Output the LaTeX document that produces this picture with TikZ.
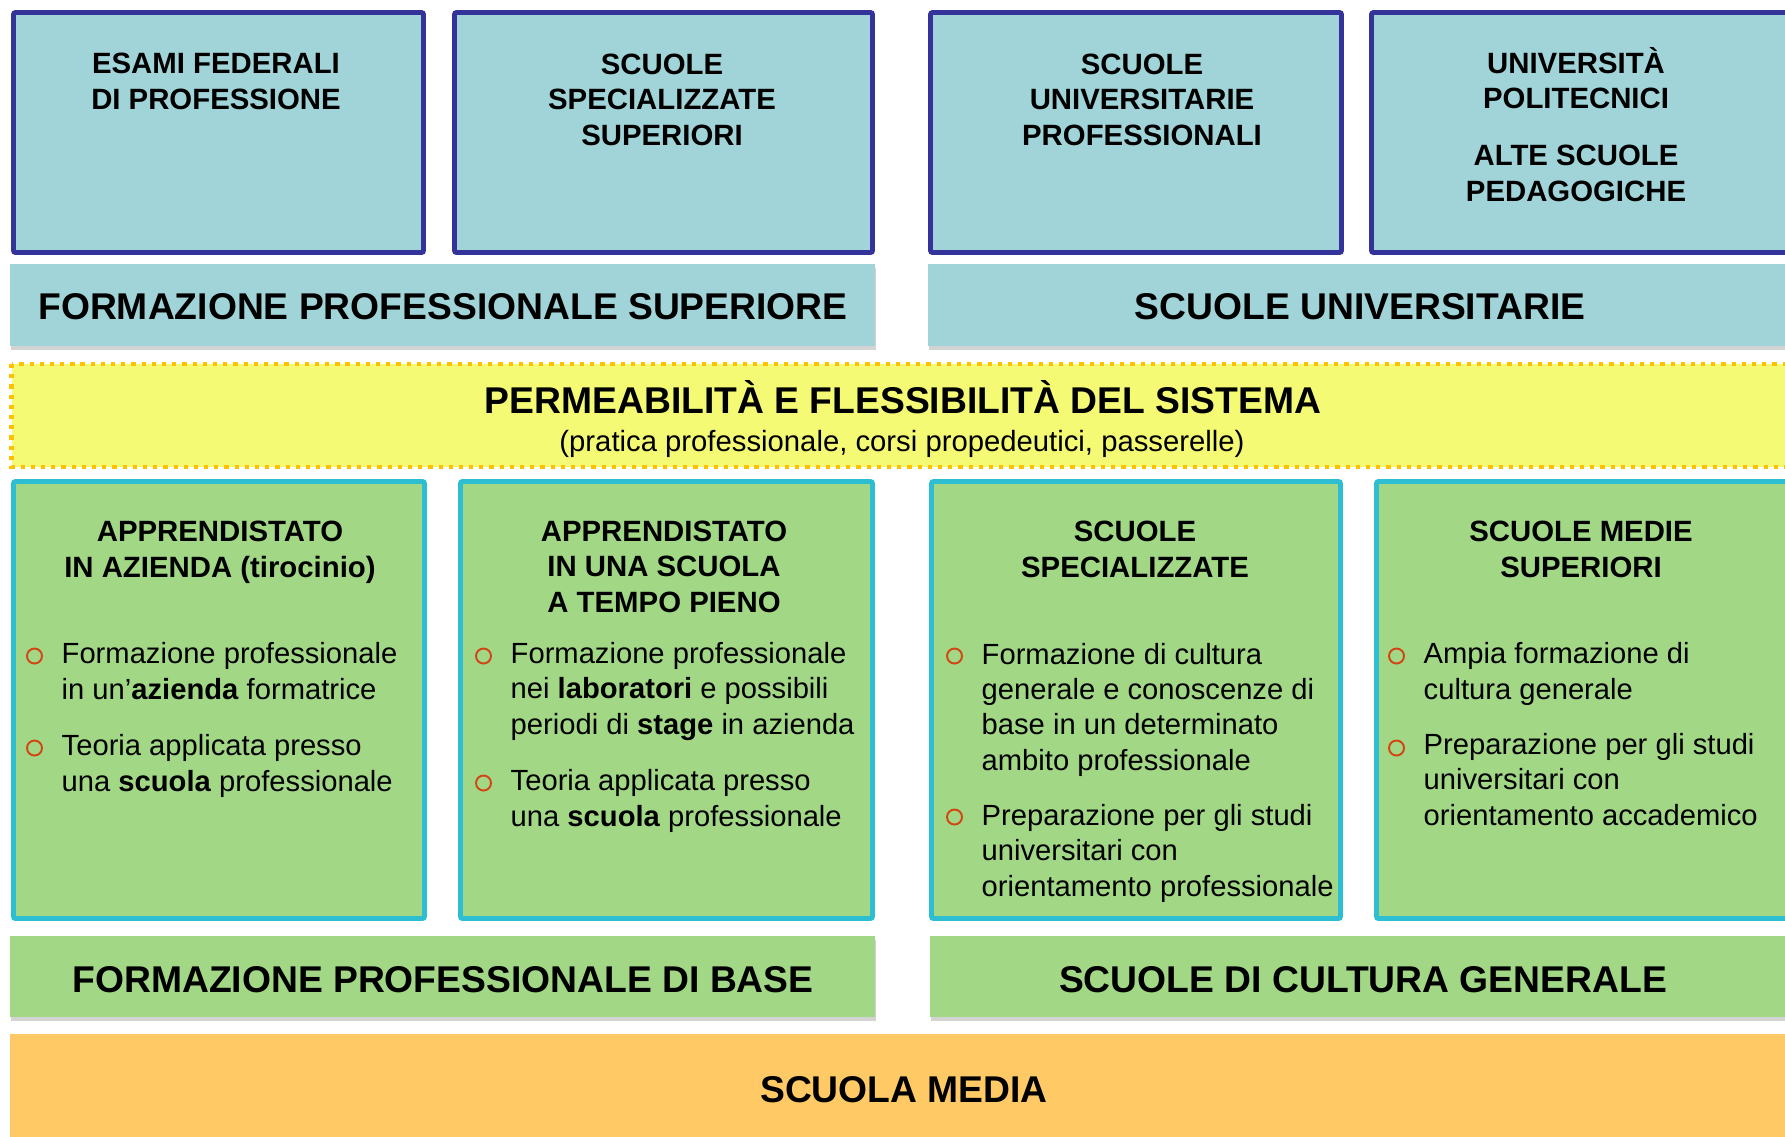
\documentclass[tikz,border=0pt]{standalone}
\usepackage{fontspec}
\setmainfont{Liberation Sans}
\usepackage{tikz}
\usetikzlibrary{shadows}
\definecolor{boxteal}{RGB}{160,212,216}
\definecolor{boxblue}{RGB}{51,51,153}
\definecolor{boxgreen}{RGB}{162,215,134}
\definecolor{boxcyan}{RGB}{46,190,210}
\definecolor{permyellow}{RGB}{245,250,116}
\definecolor{permorange}{RGB}{255,192,0}
\definecolor{mediaorange}{RGB}{255,202,102}
\definecolor{bulletred}{RGB}{210,70,20}

\begin{document}
\begin{tikzpicture}[
	upperbox/.style={draw=boxblue, line width=1.4pt, fill=boxteal, rounded corners=0.6pt},
	lowerbox/.style={draw=boxcyan, line width=1.4pt, fill=boxgreen, rounded corners=0.6pt},
	bandshadow/.style={drop shadow={shadow xshift=0.4pt, shadow yshift=-1.2pt, opacity=0.35}},
	boxtitle/.style={font=\fontsize{8.35}{10}\selectfont\bfseries, align=center, inner sep=0pt, anchor=base},
	bandtitle/.style={font=\fontsize{10.6}{12}\selectfont\bfseries, inner sep=0pt, anchor=base},
	itemtext/.style={font=\fontsize{8.3}{10}\selectfont, align=left, inner sep=0pt, anchor=base west},
	itemmark/.style={draw=bulletred, line width=0.55pt}
	]
		\useasboundingbox (0,0) rectangle (17.85,-11.36);
		\clip (0,0) rectangle (17.85,-11.36);

		% upper boxes (nodes sit on the baseline of their last line)
		\draw[upperbox] (0.135,-0.125) rectangle (4.235,-2.525);
		\draw[upperbox] (4.545,-0.125) rectangle (8.725,-2.525);
		\draw[upperbox] (9.305,-0.125) rectangle (13.415,-2.525);
		\draw[upperbox] (13.715,-0.125) rectangle (17.95,-2.525);
		\node[boxtitle] (esami) at (2.16,-1.09) {ESAMI FEDERALI\\DI PROFESSIONE};
		\node[boxtitle] (sss) at (6.62,-1.45) {SCUOLE\\SPECIALIZZATE\\SUPERIORI};
		\node[boxtitle] (sup) at (11.42,-1.45) {SCUOLE\\UNIVERSITARIE\\PROFESSIONALI};
		\node[boxtitle] (uni) at (15.76,-2.01) {UNIVERSITÀ\\POLITECNICI\\[6.3pt]ALTE SCUOLE\\PEDAGOGICHE};

		% tertiary bands
		\fill[boxteal, bandshadow] (0.10,-2.64) rectangle (8.75,-3.46);
		\fill[boxteal, bandshadow] (9.28,-2.64) rectangle (17.95,-3.46);
		\node[bandtitle] (fps) at (4.43,-3.19) {FORMAZIONE PROFESSIONALE SUPERIORE};
		\node[bandtitle] (su) at (13.60,-3.19) {SCUOLE UNIVERSITARIE};

		% permeability
		\draw[permorange, fill=permyellow, line width=1.25pt, dash pattern=on 1.2pt off 1.7pt] (0.115,-3.64) rectangle (17.95,-4.67);
		\node[bandtitle] (perm) at (9.03,-4.13) {PERMEABILITÀ E FLESSIBILITÀ DEL SISTEMA};
		\node[font=\fontsize{8.33}{10}\selectfont, inner sep=0pt, anchor=base] (permsub) at (9.02,-4.51) {(pratica professionale, corsi propedeutici, passerelle)};

		% lower boxes
		\draw[lowerbox] (0.135,-4.815) rectangle (4.245,-9.185);
		\draw[lowerbox] (4.605,-4.815) rectangle (8.725,-9.185);
		\draw[lowerbox] (9.315,-4.815) rectangle (13.405,-9.185);
		\draw[lowerbox] (13.765,-4.815) rectangle (17.95,-9.185);
		\node[boxtitle] (appaz) at (2.20,-5.77) {APPRENDISTATO\\IN AZIENDA (tirocinio)};
		\node[boxtitle] (appsc) at (6.64,-6.12) {APPRENDISTATO\\IN UNA SCUOLA\\A TEMPO PIENO};
		\node[boxtitle] (spec) at (11.35,-5.77) {SCUOLE\\SPECIALIZZATE};
		\node[boxtitle] (medie) at (15.81,-5.77) {SCUOLE MEDIE\\SUPERIORI};

		\node[itemtext] (appaza) at (0.61,-6.99) {Formazione professionale\\in un’\textbf{azienda} formatrice};
		\node[itemtext] (appazb) at (0.61,-7.91) {Teoria applicata presso\\una \textbf{scuola} professionale};
		\node[itemtext] (appsca) at (5.10,-7.34) {Formazione professionale\\nei \textbf{laboratori} e possibili\\periodi di \textbf{stage} in azienda};
		\node[itemtext] (appscb) at (5.10,-8.26) {Teoria applicata presso\\una \textbf{scuola} professionale};
		\node[itemtext] (speca) at (9.81,-7.70) {Formazione di cultura\\generale e conoscenze di\\base in un determinato\\ambito professionale};
		\node[itemtext] (specb) at (9.81,-8.96) {Preparazione per gli studi\\universitari con\\orientamento professionale};
		\node[itemtext] (mediea) at (14.23,-6.99) {Ampia formazione di\\cultura generale};
		\node[itemtext] (medieb) at (14.23,-8.25) {Preparazione per gli studi\\universitari con\\orientamento accademico};
		% bullet rings, on the first line of each item
		\foreach \x/\y in {0.345/-6.64, 0.345/-7.56, 4.835/-6.64, 4.835/-7.91,
			9.545/-6.64, 9.545/-8.25, 13.965/-6.64, 13.965/-7.56}
			\draw[itemmark] (\x,\y+0.08) circle (0.075);

		% basic bands
		\fill[boxgreen, bandshadow] (0.10,-9.36) rectangle (8.75,-10.17);
		\fill[boxgreen, bandshadow] (9.30,-9.36) rectangle (17.96,-10.17);
		\node[bandtitle] (fpb) at (4.43,-9.92) {FORMAZIONE PROFESSIONALE DI BASE};
		\node[bandtitle] (scg) at (13.63,-9.92) {SCUOLE DI CULTURA GENERALE};

		% lower secondary
		\fill[mediaorange] (0.10,-10.34) rectangle (17.95,-11.50);
		\node[bandtitle] (media) at (9.04,-11.02) {SCUOLA MEDIA};
	\end{tikzpicture}
\end{document}
